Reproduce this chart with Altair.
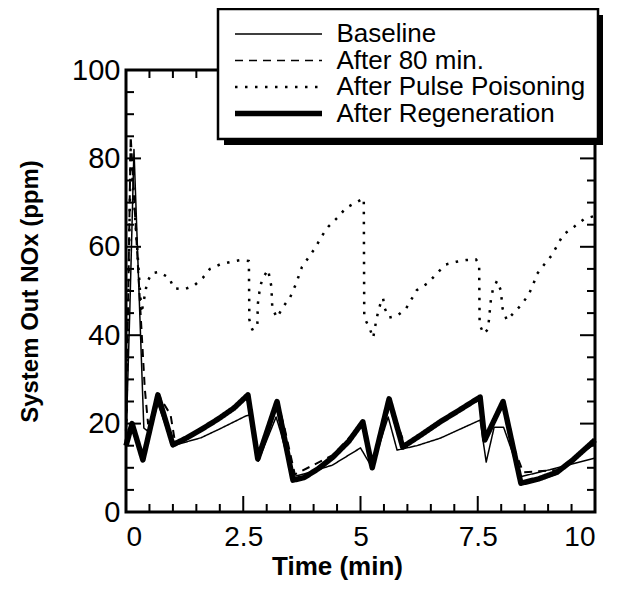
import altair as alt
import pandas as pd

FONT = "Liberation Sans, Arial, Helvetica, sans-serif"

SERIES = ["Baseline", "After 80 min.", "After Pulse Poisoning", "After Regeneration"]

baseline_t = [0.0, 0.08, 0.17, 0.38, 0.5, 0.68, 1.0, 1.6, 2.0, 2.55, 2.65, 2.82, 3.2, 3.3, 3.55, 3.8,
              4.4, 5.0, 5.25, 5.59, 5.78, 6.2, 6.7, 7.55, 7.68, 7.85, 8.05, 8.42, 9.2, 10.0]
baseline_v = [16, 45, 82, 19, 18, 24.5, 15, 16.8, 18.8, 21.7, 22, 11.5, 21.5, 18, 8, 8.6,
              10.6, 14.5, 10, 21.5, 14, 15, 16.7, 20.8, 11.3, 19.2, 19.2, 8, 10, 12.2]

after80_t = [0.0, 0.1, 0.4, 0.47, 0.72, 0.95, 1.05, 1.6, 2.0, 2.6, 2.83, 3.24, 3.38, 3.6, 4.4,
             5.05, 5.27, 5.63, 5.95, 6.7, 7.55, 7.67, 8.06, 8.25, 8.47, 9.2, 10.0]
after80_v = [16, 85, 28, 20, 26, 22, 15.5, 18.8, 21.3, 26, 13, 24.5, 19, 8.5, 12.8,
             20, 11, 24.5, 15, 20.6, 25.5, 17, 24.5, 15, 9, 9.5, 15.5]

pulse_t = [0.0, 0.1, 0.33, 0.4, 0.45, 0.55, 0.7, 0.92, 1.02, 1.24, 1.45, 1.64, 1.79, 2.0, 2.24,
           2.45, 2.62, 2.63, 2.69, 2.8, 2.81, 2.86, 2.92, 3.03, 3.1, 3.12, 3.22, 3.35, 3.5, 3.6,
           3.67, 3.75, 3.9, 4.05, 4.16, 4.31, 4.52, 4.69, 4.9, 5.07, 5.08, 5.2, 5.27, 5.33, 5.37,
           5.44, 5.48, 5.52, 5.61, 5.78, 5.97, 6.2, 6.44, 6.63, 6.82, 7.04, 7.25, 7.46, 7.53, 7.54,
           7.63, 7.72, 7.78, 7.82, 7.91, 7.99, 8.03, 8.12, 8.44, 8.59, 8.68, 8.76, 8.91, 9.08, 9.32,
           9.55, 9.77, 10.0]
pulse_v = [16, 82, 45, 49, 52, 54, 54.3, 53, 50.6, 50.4, 51.2, 53, 55, 56, 56.6,
           57, 56.8, 43.5, 41.3, 41.8, 47, 51, 53, 54.8, 51, 46, 44, 46.4, 48.6, 51,
           53, 55.4, 57.7, 60, 62.2, 64.5, 66.7, 68.8, 70, 71, 44, 41.4, 39.4, 43, 45,
           47.7, 48.4, 46, 44, 44.4, 46, 50.2, 51.8, 54, 56, 56.6, 57, 57.2, 56, 42.3,
           40.3, 41.4, 48, 50.2, 52.3, 50.2, 46, 43.4, 47, 49.3, 51.4, 53.8, 55.9, 58.1, 62.7,
           64.5, 66.3, 67]

regen_t = [0.0, 0.13, 0.36, 0.68, 1.0, 1.3, 1.58, 1.96, 2.3, 2.6, 2.81, 3.22, 3.56, 3.8, 4.1,
           4.41, 4.75, 5.05, 5.25, 5.61, 5.9, 6.3, 6.7, 7.1, 7.55, 7.65, 8.04, 8.42, 8.8, 9.19,
           9.53, 10.0]
regen_v = [15, 20, 11.8, 26.5, 15.2, 16.8, 18.5, 21, 23.5, 26.5, 12, 25, 7.2, 7.8, 9.8,
           12.4, 16, 20.4, 10, 25.6, 14.7, 17.5, 20.4, 23, 26, 16.3, 25, 6.5, 7.5, 9,
           11.8, 16.3]

x_major = [0, 2.5, 5, 7.5, 10]
x_minor = [0.5, 1, 1.5, 2, 3, 3.5, 4, 4.5, 5.5, 6, 6.5, 7, 8, 8.5, 9, 9.5]
y_major = [0, 20, 40, 60, 80, 100]
y_minor = [5, 10, 15, 25, 30, 35, 45, 50, 55, 65, 70, 75, 85, 90, 95]

W, H = 469, 442

rows = []
for name, ts, vs in zip(SERIES, [baseline_t, after80_t, pulse_t, regen_t],
                        [baseline_v, after80_v, pulse_v, regen_v]):
    for i, (t, v) in enumerate(zip(ts, vs)):
        rows.append({"series": name, "t": t, "v": v, "order": i})
df = pd.DataFrame(rows)

xscale = alt.Scale(domain=[0, 10], nice=False, zero=False)
yscale = alt.Scale(domain=[0, 100], nice=False, zero=False)

x_axis = alt.Axis(values=x_major, labelExpr="datum.value", title="Time (min)",
                  labelFontSize=28, labelPadding=11, titleFontSize=26, titleFontWeight="bold",
                  titleX=211, titleY=54, titleBaseline="middle", titleAlign="center")
y_axis = alt.Axis(values=y_major, title="System Out NOx (ppm)",
                  labelFontSize=29, labelPadding=6, titleFontSize=24, titleFontWeight="bold",
                  titleX=-96, titleY=H / 2, titleBaseline="middle", titleAlign="center",
                  titleAngle=270)

leg = alt.Legend(
    orient="none", legendX=92, legendY=-61, title=None,
    symbolType="stroke", symbolSize=7569, clipHeight=26,
    labelFontSize=26, labelFont=FONT, labelColor="black",
    labelOffset=45, symbolOffset=35.5, padding=12, rowPadding=0.5,
    fillColor="white", strokeColor="black", labelLimit=500,
    symbolStrokeWidth={"expr": "datum.value === 'After Regeneration' ? 5.5 : (datum.value === 'After Pulse Poisoning' ? 2.5 : 1.6)"},
)

width_enc = (
    alt.when(alt.datum.series == "After Regeneration").then(alt.value(5.5))
    .when(alt.datum.series == "After Pulse Poisoning").then(alt.value(2.5))
    .when(alt.datum.series == "After 80 min.").then(alt.value(2))
    .otherwise(alt.value(1.5))
)

lines = alt.Chart(df).mark_line(strokeJoin="round").encode(
    x=alt.X("t:Q", scale=xscale, axis=x_axis),
    y=alt.Y("v:Q", scale=yscale, axis=y_axis),
    color=alt.Color("series:N", scale=alt.Scale(domain=SERIES, range=["black"] * 4), legend=leg),
    strokeDash=alt.StrokeDash("series:N",
                              scale=alt.Scale(domain=SERIES, range=[[1, 0], [8, 6], [2.5, 7.5], [1, 0]]),
                              legend=leg),
    strokeWidth=width_enc,
    order="order:Q",
)

def tick_layer(values, field, length, side):
    d = pd.DataFrame({field: values})
    base = alt.Chart(d).mark_rule(color="black", strokeWidth=2)
    if field == "t":
        enc = dict(x=alt.X("t:Q", scale=xscale, axis=x_axis))
        if side == "bottom":
            enc.update(y=alt.value(H), y2=alt.value(H - length))
        else:
            enc.update(y=alt.value(0), y2=alt.value(length))
    else:
        enc = dict(y=alt.Y("v:Q", scale=yscale, axis=y_axis))
        if side == "left":
            enc.update(x=alt.value(0), x2=alt.value(length))
        else:
            enc.update(x=alt.value(W), x2=alt.value(W - length))
    return base.encode(**enc)

ticks = [
    tick_layer(x_major, "t", 16, "bottom"), tick_layer(x_minor, "t", 8, "bottom"),
    tick_layer(x_major, "t", 16, "top"), tick_layer(x_minor, "t", 8, "top"),
    tick_layer(y_major, "v", 15, "left"), tick_layer(y_minor, "v", 8, "left"),
    tick_layer(y_major, "v", 15, "right"), tick_layer(y_minor, "v", 8, "right"),
]

shadow = alt.Chart(pd.DataFrame({"k": [0]})).mark_rect(color="black").encode(
    x=alt.value(98), x2=alt.value(98 + 379), y=alt.value(-55), y2=alt.value(-55 + 130)
)

chart = alt.layer(lines, *ticks, shadow).properties(
    width=W, height=H,
    autosize=alt.AutoSizeParams(type="none"),
    padding={"left": 118, "top": 62, "right": 17, "bottom": 69},
    background="white",
).configure_view(
    stroke="black", strokeWidth=3
).configure_axis(
    labelFont=FONT, titleFont=FONT, labelColor="black", titleColor="black",
    domain=False, ticks=False, grid=False
).configure_legend(
    strokeWidth=2.5
)

chart.save("out.html", embed_options={"renderer": "svg", "actions": False})
